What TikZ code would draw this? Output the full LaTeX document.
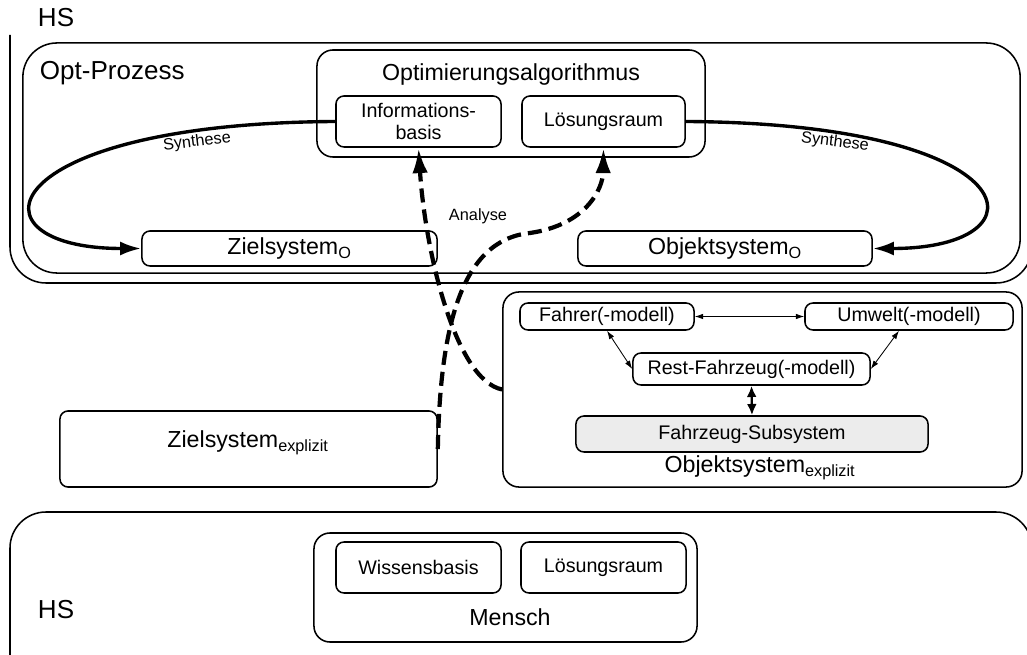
\documentclass[tikz,border=0pt]{standalone}
\usepackage{fontspec}
\setmainfont{Liberation Sans}
\usetikzlibrary{arrows.meta,positioning}

\begin{document}
\begin{tikzpicture}[x=0.025cm, y=-0.025cm,
    every node/.style={font=\fontsize{14}{16}\selectfont},
    box/.style={draw, line width=1.1pt, rounded corners=0.2cm, inner sep=0pt, align=center},
    group/.style={draw, line width=1.1pt, rounded corners=0.4cm, inner sep=0pt},
    frame/.style={draw, line width=1.1pt, rounded corners=0.9cm},
    title/.style={font=\fontsize{16.5}{19}\selectfont},
    hs/.style={font=\fontsize{18.5}{21}\selectfont, anchor=west},
    small/.style={font=\fontsize{11.6}{13}\selectfont},
    synth/.style={line width=2.4pt, -{Latex[length=15pt,width=10pt]}},
    analyse/.style={line width=3pt, dash pattern=on 10pt off 5pt, -{Latex[length=18pt,width=11pt]}},
    link/.style={line width=0.6pt, {Latex[length=6pt,width=4pt]}-{Latex[length=6pt,width=4pt]}},
    strong link/.style={line width=1.6pt, {Latex[length=8pt,width=7pt]}-{Latex[length=8pt,width=7pt]}}]

    \useasboundingbox (0,0) rectangle (1027,655);

    % HS frames (open towards the page edges)
    \draw[frame] (10,35) -- (10,283) -- (1032,283) -- (1032,200);
    \draw[frame] (10,670) -- (10,512) -- (1032,512) -- (1032,670);
    \node[hs] (hstop) at (33,18) {HS};
    \node[hs] (hsbot) at (33,610) {HS};

    % Opt-Prozess
    \node[group, rounded corners=0.85cm, minimum width=24.925cm, minimum height=5.75cm] (opt) at (521.5,158) {};
    \node[hs] (optlabel) at (35,73) {Opt-Prozess};
    \node[group, minimum width=9.7cm, minimum height=2.675cm] (optalg) at (511,103.5) {};
    \node[title] (optalgtitle) at (511,75) {Optimierungsalgorithmus};
    \node[box, minimum width=4.125cm, minimum height=1.275cm] (infobasis) at (418.5,121.5) {Informations-\\basis};
    \node[box, minimum width=4.075cm, minimum height=1.275cm] (loesraum) at (603.5,121.5) {Lösungsraum};
    \node[box, title, minimum width=7.375cm, minimum height=0.875cm] (zielO) at (289.5,248.5) {Zielsystem\textsubscript{O}};
    \node[box, title, minimum width=7.35cm, minimum height=0.875cm] (objO) at (725,248.5) {Objektsystem\textsubscript{O}};

    % explicit systems
    \node[box, minimum width=9.425cm, minimum height=1.9cm] (zielexp) at (248.5,449) {};
    \node[title] (zielexplabel) at (248,443) {Zielsystem\textsubscript{explizit}};
    \node[group, minimum width=12.975cm, minimum height=4.875cm] (objexp) at (762.5,389.5) {};
    \node[title] (objexplabel) at (760,468) {Objektsystem\textsubscript{explizit}};
    \node[box, minimum width=4.35cm, minimum height=0.675cm] (fahrer) at (607,316.5) {Fahrer(-modell)};
    \node[box, minimum width=5.2cm, minimum height=0.675cm] (umwelt) at (909,316.5) {Umwelt(-modell)};
    \node[box, minimum width=5.925cm, minimum height=0.8cm] (rest) at (751.5,369) {Rest-Fahrzeug(-modell)};
    \node[box, fill=gray!15, minimum width=8.8cm, minimum height=0.9cm] (subsys) at (752,434) {Fahrzeug-Subsystem};

    \draw[link] (fahrer.east) -- (umwelt.west);
    \draw[link] (fahrer.south) -- (rest.west);
    \draw[link] ([xshift=-0.25cm]umwelt.south) -- (rest.east);
    \draw[strong link] (rest.south) -- (subsys.north);

    % Mensch
    \node[group, minimum width=9.575cm, minimum height=2.725cm] (mensch) at (505.5,587.5) {};
    \node[title] (menschlabel) at (510,617) {Mensch};
    \node[box, minimum width=4.125cm, minimum height=1.275cm] (wissen) at (418.5,567.5) {Wissensbasis};
    \node[box, minimum width=4.125cm, minimum height=1.275cm] (loesraum2) at (603.5,567.5) {Lösungsraum};

    % Synthese / Analyse
    \draw[synth] (infobasis.west) .. controls +(-345,2) and +(-178,0) .. (zielO.west);
    \draw[synth] (loesraum.east) .. controls +(345,2) and +(178,0) .. (objO.east);
    \node[small, rotate=7] (synthl) at (197,142) {Synthese};
    \node[small, rotate=-7] (synthr) at (835,142) {Synthese};

    \draw[analyse] (objexp.west) .. controls (455,380) and (425,250) .. (infobasis.south);
    \draw[analyse] (zielexp.east) .. controls (440,330) and (460,240) .. (530,233)
        .. controls (585,225) and (603,190) .. (loesraum.south);
    \node[small] (analyselabel) at (478,216) {Analyse};
\end{tikzpicture}
\end{document}
